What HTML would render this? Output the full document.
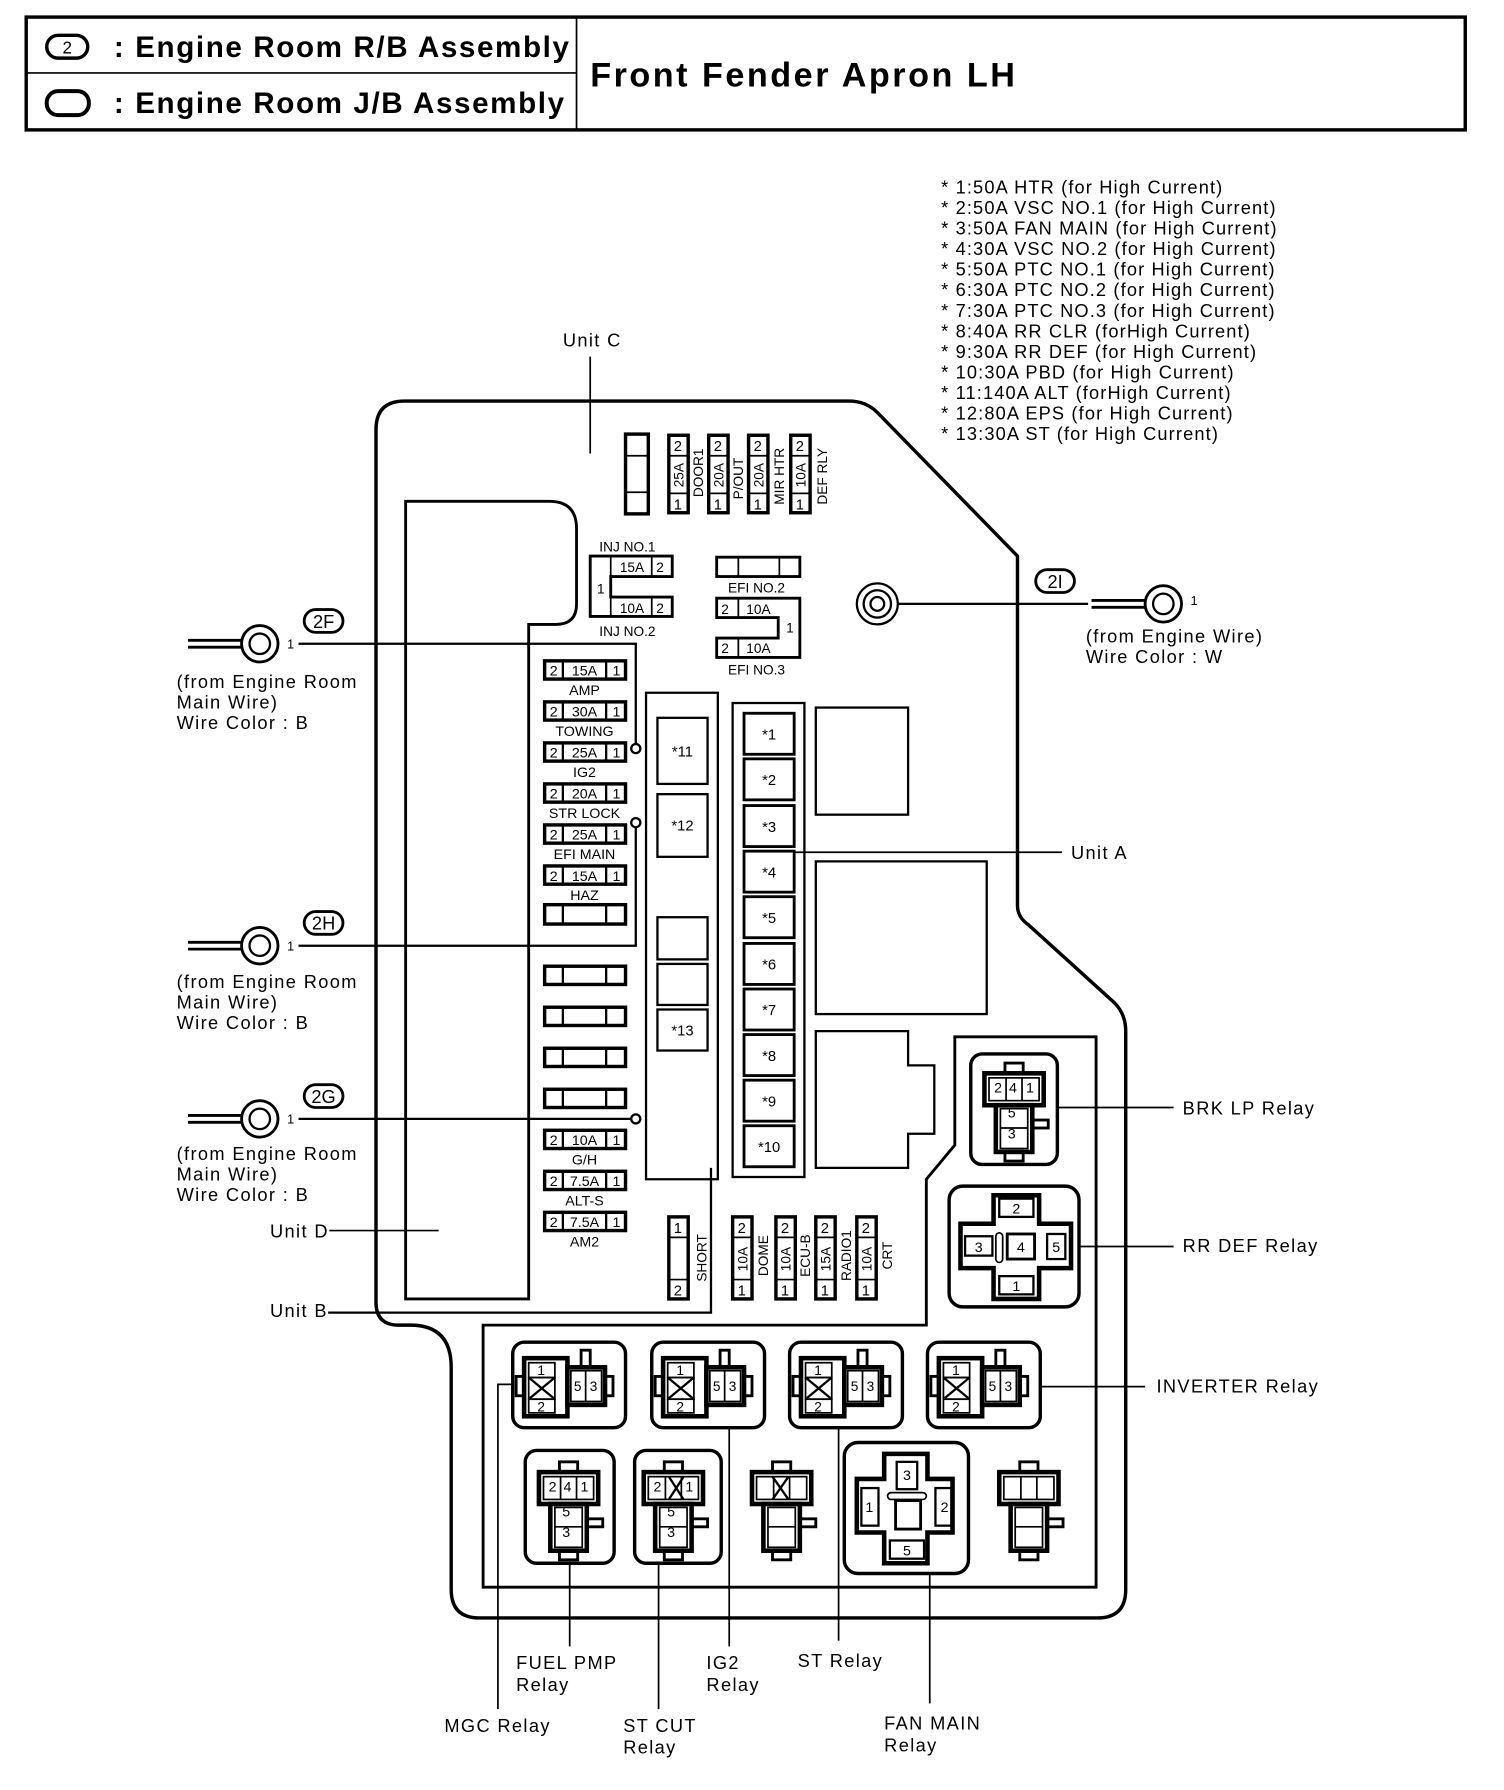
<!DOCTYPE html>
<html><head><meta charset="utf-8"><style>
html,body{margin:0;padding:0;background:#fff}
svg{display:block}
text{font-family:"Liberation Sans",Arial,sans-serif;fill:#000}
.lab text{letter-spacing:1.2px}
</style></head><body>
<svg width="1504" height="1790" viewBox="0 0 1320 1571" preserveAspectRatio="none" xmlns="http://www.w3.org/2000/svg">
<defs>
<g id="r1">
<rect x="0" y="0" width="99" height="75" rx="10" fill="none" stroke="#000" stroke-width="3"/>
<rect x="3" y="30" width="7" height="17" fill="#fff" stroke="#000" stroke-width="2.5"/>
<rect x="81" y="30" width="7" height="17" fill="#fff" stroke="#000" stroke-width="2.5"/>
<rect x="60" y="7" width="8" height="16" fill="#fff" stroke="#000" stroke-width="2.5"/>
<rect x="10" y="14" width="38" height="51" fill="#fff" stroke="#000" stroke-width="4"/>
<rect x="48" y="22" width="33" height="33" fill="#fff" stroke="#000" stroke-width="4"/>
<rect x="14" y="18" width="23" height="13" fill="none" stroke="#000" stroke-width="1.5"/>
<rect x="14" y="31" width="23" height="19" fill="none" stroke="#000" stroke-width="1.5"/>
<path d="M14 31 L37 50 M37 31 L14 50" stroke="#000" stroke-width="2"/>
<rect x="14" y="50" width="23" height="12" fill="none" stroke="#000" stroke-width="1.5"/>
<rect x="51" y="25" width="27" height="27" fill="none" stroke="#000" stroke-width="1.5"/>
<line x1="64" y1="25" x2="64" y2="52" stroke="#000" stroke-width="1.5"/>
<text x="25" y="29" font-size="12" text-anchor="middle">1</text>
<text x="25" y="61" font-size="12" text-anchor="middle">2</text>
<text x="57" y="43" font-size="12" text-anchor="middle">5</text>
<text x="71" y="43" font-size="12" text-anchor="middle">3</text>
</g>
<g id="r3">
<rect x="30" y="6" width="16" height="9" fill="#fff" stroke="#000" stroke-width="2.5"/>
<rect x="30" y="84" width="16" height="8" fill="#fff" stroke="#000" stroke-width="2.5"/>
<rect x="54" y="56" width="14" height="7" fill="#fff" stroke="#000" stroke-width="2.5"/>
<rect x="12" y="15" width="52" height="28" fill="#fff" stroke="#000" stroke-width="4"/>
<rect x="22" y="43" width="32" height="41" fill="#fff" stroke="#000" stroke-width="4"/>
<rect x="16" y="19" width="44" height="20" fill="none" stroke="#000" stroke-width="1.5"/>
<line x1="31" y1="19" x2="31" y2="39" stroke="#000" stroke-width="1.5"/>
<line x1="45" y1="19" x2="45" y2="39" stroke="#000" stroke-width="1.5"/>
<rect x="26" y="46" width="24" height="35" fill="none" stroke="#000" stroke-width="1.5"/>
<line x1="26" y1="63" x2="50" y2="63" stroke="#000" stroke-width="1.5"/>
</g>
</defs>

<!-- header -->
<rect x="23" y="15" width="1263" height="99" fill="none" stroke="#000" stroke-width="3"/>
<line x1="506" y1="15" x2="506" y2="114" stroke="#000" stroke-width="1.5"/>
<line x1="23" y1="64" x2="506" y2="64" stroke="#000" stroke-width="1.5"/>
<rect x="41" y="31" width="36" height="20" rx="10" fill="none" stroke="#000" stroke-width="3"/>
<text x="59" y="47" font-size="15" text-anchor="middle">2</text>
<rect x="41" y="80" width="37" height="21" rx="10" fill="none" stroke="#000" stroke-width="3.5"/>
<text x="100" y="50" font-size="26" font-weight="bold" style="letter-spacing:1.4px">: Engine Room R/B Assembly</text>
<text x="100" y="99" font-size="26" font-weight="bold" style="letter-spacing:1.4px">: Engine Room J/B Assembly</text>
<text x="518" y="76" font-size="30" font-weight="bold" style="letter-spacing:2.2px">Front Fender Apron LH</text>

<!-- notes -->
<g font-size="16" style="letter-spacing:1px">
<text x="826" y="170">* 1:50A HTR (for High Current)</text>
<text x="826" y="188">* 2:50A VSC NO.1 (for High Current)</text>
<text x="826" y="206">* 3:50A FAN MAIN (for High Current)</text>
<text x="826" y="224">* 4:30A VSC NO.2 (for High Current)</text>
<text x="826" y="242">* 5:50A PTC NO.1 (for High Current)</text>
<text x="826" y="260">* 6:30A PTC NO.2 (for High Current)</text>
<text x="826" y="278">* 7:30A PTC NO.3 (for High Current)</text>
<text x="826" y="296">* 8:40A RR CLR (forHigh Current)</text>
<text x="826" y="314">* 9:30A RR DEF (for High Current)</text>
<text x="826" y="332">* 10:30A PBD (for High Current)</text>
<text x="826" y="350">* 11:140A ALT (forHigh Current)</text>
<text x="826" y="368">* 12:80A EPS (for High Current)</text>
<text x="826" y="386">* 13:30A ST (for High Current)</text>
</g>

<g fill="none" stroke="#000">
<path d="M355 352 L745 352 Q760 352 770 362 L893 488 L893 795 Q893 805 903 812 L978 880 Q988 890 988 905 L988 1395 Q988 1420 963 1420 L421 1420 Q396 1420 396 1395 L396 1200 Q396 1163 360 1163 L350 1163 Q330 1163 330 1143 L330 377 Q330 352 355 352 Z" stroke-width="3"/>
<path d="M356 1140 L356 440 L482 440 Q506 440 506 464 L506 530 Q506 548 488 548 L464 548 L464 1140 Z" stroke-width="2.5"/>
<path d="M424 1393 L424 1163 L813 1163 L813 1035 L838 1005 L838 910 L962 910 L962 1393 Z" stroke-width="2.5"/>
<line x1="518" y1="313" x2="518" y2="398" stroke-width="1.5"/>
<path d="M567 1035 L567 608 L630 608 L630 1035 Z" stroke-width="2"/>
<polyline points="288,1152 624,1152 624,1025" stroke-width="2"/>
<rect x="577" y="630" width="44" height="58" stroke-width="2"/>
<rect x="577" y="697" width="44" height="55" stroke-width="2"/>
<rect x="577" y="805" width="44" height="37" stroke-width="2"/>
<rect x="577" y="846" width="44" height="36" stroke-width="2"/>
<rect x="577" y="886" width="44" height="36" stroke-width="2"/>
<rect x="643" y="617" width="63" height="416" stroke-width="2"/>
<rect x="716" y="621" width="81" height="94" stroke-width="2"/>
<rect x="716" y="756" width="150" height="134" stroke-width="2"/>
<path d="M716 905 L797 905 L797 935 L820 935 L820 995 L797 995 L797 1025 L716 1025 Z" stroke-width="2"/>
<line x1="697" y1="748" x2="932" y2="748" stroke-width="1.5"/>
</g>
<g fill="none" stroke="#000" stroke-width="2.5">
<rect x="653" y="626" width="44" height="36"/><rect x="653" y="666" width="44" height="36"/>
<rect x="653" y="707" width="44" height="36"/><rect x="653" y="747" width="44" height="36"/>
<rect x="653" y="787" width="44" height="36"/><rect x="653" y="828" width="44" height="36"/>
<rect x="653" y="868" width="44" height="36"/><rect x="653" y="908" width="44" height="36"/>
<rect x="653" y="948" width="44" height="36"/><rect x="653" y="988" width="44" height="36"/>
</g>
<g font-size="13" text-anchor="middle">
<text x="675" y="649">*1</text><text x="675" y="689">*2</text><text x="675" y="730">*3</text>
<text x="675" y="770">*4</text><text x="675" y="810">*5</text><text x="675" y="851">*6</text>
<text x="675" y="891">*7</text><text x="675" y="931">*8</text><text x="675" y="971">*9</text>
<text x="675" y="1011">*10</text>
<text x="599" y="664">*11</text><text x="599" y="729">*12</text><text x="599" y="909">*13</text>
</g>
<g class="lab" font-size="16">
<text x="940" y="754">Unit A</text>
<text x="494" y="304">Unit C</text>
<text x="237" y="1086">Unit D</text>
<text x="237" y="1156">Unit B</text>
</g>
<line x1="289" y1="1080" x2="385" y2="1080" stroke="#000" stroke-width="1.5"/>

<!-- top fuses -->
<g fill="none" stroke="#000" stroke-width="3">
<rect x="549" y="381" width="20" height="70"/>
<line x1="549" y1="400" x2="569" y2="400" stroke-width="1.5"/><line x1="549" y1="432" x2="569" y2="432" stroke-width="1.5"/>
<rect x="587" y="382" width="17" height="68"/><rect x="622" y="382" width="17" height="68"/>
<rect x="657" y="382" width="17" height="68"/><rect x="694" y="382" width="17" height="68"/>
</g>
<g stroke="#000" stroke-width="1.5">
<line x1="587" y1="400" x2="604" y2="400"/><line x1="587" y1="433" x2="604" y2="433"/>
<line x1="622" y1="400" x2="639" y2="400"/><line x1="622" y1="433" x2="639" y2="433"/>
<line x1="657" y1="400" x2="674" y2="400"/><line x1="657" y1="433" x2="674" y2="433"/>
<line x1="694" y1="400" x2="711" y2="400"/><line x1="694" y1="433" x2="711" y2="433"/>
</g>
<g font-size="13" text-anchor="middle">
<text x="595" y="396">2</text><text x="595" y="447">1</text>
<text x="630" y="396">2</text><text x="630" y="447">1</text>
<text x="665" y="396">2</text><text x="665" y="447">1</text>
<text x="702" y="396">2</text><text x="702" y="447">1</text>
</g>
<g font-size="12" text-anchor="middle">
<text transform="translate(600,417) rotate(-90)">25A</text>
<text transform="translate(635,417) rotate(-90)">20A</text>
<text transform="translate(670,417) rotate(-90)">20A</text>
<text transform="translate(707,417) rotate(-90)">10A</text>
<text transform="translate(617,415) rotate(-90)">DOOR1</text>
<text transform="translate(652,420) rotate(-90)">P/OUT</text>
<text transform="translate(688,418) rotate(-90)">MIR HTR</text>
<text transform="translate(726,418) rotate(-90)">DEF RLY</text>
</g>

<!-- INJ / EFI -->
<g fill="none" stroke="#000" stroke-width="2.5">
<path d="M518 488 L590 488 L590 506 L536 506 L536 524 L590 524 L590 541 L518 541 Z"/>
<line x1="536" y1="488" x2="536" y2="506" stroke-width="1.5"/><line x1="572" y1="488" x2="572" y2="506" stroke-width="1.5"/>
<line x1="536" y1="524" x2="536" y2="541" stroke-width="1.5"/><line x1="572" y1="524" x2="572" y2="541" stroke-width="1.5"/>
<rect x="629" y="489" width="73" height="17"/>
<line x1="648" y1="489" x2="648" y2="506" stroke-width="1.5"/><line x1="684" y1="489" x2="684" y2="506" stroke-width="1.5"/>
<path d="M629 525 L702 525 L702 577 L629 577 L629 560 L683 560 L683 542 L629 542 Z"/>
<line x1="648" y1="525" x2="648" y2="542" stroke-width="1.5"/><line x1="648" y1="560" x2="648" y2="577" stroke-width="1.5"/>
<line x1="683" y1="542" x2="683" y2="560" stroke-width="1.5"/>
</g>
<g font-size="12">
<text x="526" y="484">INJ NO.1</text>
<text x="544" y="502">15A</text><text x="576" y="502">2</text>
<text x="524" y="521">1</text>
<text x="544" y="538">10A</text><text x="576" y="538">2</text>
<text x="526" y="558">INJ NO.2</text>
<text x="639" y="520">EFI NO.2</text>
<text x="633" y="539">2</text><text x="655" y="539">10A</text>
<text x="633" y="573">2</text><text x="655" y="573">10A</text>
<text x="690" y="555">1</text>
<text x="639" y="592">EFI NO.3</text>
</g>

<!-- left fuse stack -->
<g fill="none" stroke="#000" stroke-width="3">
<rect x="478" y="580" width="71" height="16"/><rect x="478" y="616" width="71" height="16"/>
<rect x="478" y="652" width="71" height="16"/><rect x="478" y="688" width="71" height="16"/>
<rect x="478" y="724" width="71" height="16"/><rect x="478" y="760" width="71" height="16"/>
<rect x="478" y="794" width="71" height="17"/>
<rect x="478" y="848" width="71" height="16"/><rect x="478" y="884" width="71" height="16"/>
<rect x="478" y="920" width="71" height="16"/><rect x="478" y="956" width="71" height="16"/>
<rect x="478" y="992" width="71" height="16"/><rect x="478" y="1028" width="71" height="16"/>
<rect x="478" y="1064" width="71" height="16"/>
</g>
<g stroke="#000" stroke-width="2">
<path d="M494 580v16M532 580v16M494 616v16M532 616v16M494 652v16M532 652v16M494 688v16M532 688v16M494 724v16M532 724v16M494 760v16M532 760v16M494 794v17M532 794v17M494 848v16M532 848v16M494 884v16M532 884v16M494 920v16M532 920v16M494 956v16M532 956v16M494 992v16M532 992v16M494 1028v16M532 1028v16M494 1064v16M532 1064v16"/>
</g>
<g font-size="12.5" text-anchor="middle">
<text x="486" y="593">2</text><text x="513" y="593">15A</text><text x="541" y="593">1</text><text x="513" y="610">AMP</text>
<text x="486" y="629">2</text><text x="513" y="629">30A</text><text x="541" y="629">1</text><text x="513" y="646">TOWING</text>
<text x="486" y="665">2</text><text x="513" y="665">25A</text><text x="541" y="665">1</text><text x="513" y="682">IG2</text>
<text x="486" y="701">2</text><text x="513" y="701">20A</text><text x="541" y="701">1</text><text x="513" y="718">STR LOCK</text>
<text x="486" y="737">2</text><text x="513" y="737">25A</text><text x="541" y="737">1</text><text x="513" y="754">EFI MAIN</text>
<text x="486" y="773">2</text><text x="513" y="773">15A</text><text x="541" y="773">1</text><text x="513" y="790">HAZ</text>
<text x="486" y="1005">2</text><text x="513" y="1005">10A</text><text x="541" y="1005">1</text><text x="513" y="1022">G/H</text>
<text x="486" y="1041">2</text><text x="513" y="1041">7.5A</text><text x="541" y="1041">1</text><text x="513" y="1058">ALT-S</text>
<text x="486" y="1077">2</text><text x="513" y="1077">7.5A</text><text x="541" y="1077">1</text><text x="513" y="1094">AM2</text>
</g>

<!-- bottom small fuses -->
<g fill="none" stroke="#000" stroke-width="3">
<rect x="587" y="1068" width="17" height="72"/>
<rect x="643" y="1068" width="17" height="72"/><rect x="681" y="1068" width="17" height="72"/>
<rect x="716" y="1068" width="17" height="72"/><rect x="752" y="1068" width="17" height="72"/>
</g>
<g stroke="#000" stroke-width="1.5">
<path d="M587 1086h17M587 1123h17M643 1086h17M643 1123h17M681 1086h17M681 1123h17M716 1086h17M716 1123h17M752 1086h17M752 1123h17"/>
</g>
<g font-size="13" text-anchor="middle">
<text x="595" y="1082">1</text><text x="595" y="1137">2</text>
<text x="651" y="1082">2</text><text x="651" y="1137">1</text>
<text x="689" y="1082">2</text><text x="689" y="1137">1</text>
<text x="724" y="1082">2</text><text x="724" y="1137">1</text>
<text x="760" y="1082">2</text><text x="760" y="1137">1</text>
</g>
<g font-size="12" text-anchor="middle">
<text transform="translate(656,1105) rotate(-90)">10A</text>
<text transform="translate(694,1105) rotate(-90)">10A</text>
<text transform="translate(729,1105) rotate(-90)">15A</text>
<text transform="translate(765,1105) rotate(-90)">10A</text>
<text transform="translate(620,1104) rotate(-90)">SHORT</text>
<text transform="translate(674,1102) rotate(-90)">DOME</text>
<text transform="translate(711,1102) rotate(-90)">ECU-B</text>
<text transform="translate(747,1102) rotate(-90)">RADIO1</text>
<text transform="translate(783,1102) rotate(-90)">CRT</text>
</g>

<!-- wire connectors -->
<g fill="none" stroke="#000">
<g stroke-width="2.5">
<path d="M165 562H212M165 568H212"/><circle cx="228" cy="565" r="16"/><circle cx="228" cy="565" r="9" stroke-width="2"/>
<path d="M165 827H212M165 833H212"/><circle cx="228" cy="830" r="16"/><circle cx="228" cy="830" r="9" stroke-width="2"/>
<path d="M165 979H212M165 985H212"/><circle cx="228" cy="982" r="16"/><circle cx="228" cy="982" r="9" stroke-width="2"/>
<path d="M958 527H1005M958 533H1005"/><circle cx="1021" cy="530" r="16"/><circle cx="1021" cy="530" r="9" stroke-width="2"/>
</g>
<g stroke-width="2">
<polyline points="262,565 558,565 558,653"/><circle cx="558" cy="657" r="4"/>
<polyline points="262,830 558,830 558,726"/><circle cx="558" cy="722" r="4"/>
<line x1="262" y1="982" x2="554" y2="982"/><circle cx="558" cy="982" r="4"/>
<line x1="788" y1="530" x2="955" y2="530"/>
<circle cx="770" cy="530" r="18"/><circle cx="770" cy="530" r="12"/><circle cx="770" cy="530" r="6"/>
</g>
<g stroke-width="2.5">
<rect x="267" y="535" width="34" height="20" rx="10"/>
<rect x="267" y="800" width="34" height="20" rx="10"/>
<rect x="267" y="952" width="34" height="20" rx="10"/>
<rect x="909" y="500" width="34" height="20" rx="10"/>
</g>
</g>
<g font-size="16">
<text x="284" y="551" text-anchor="middle">2F</text>
<text x="284" y="816" text-anchor="middle">2H</text>
<text x="284" y="968" text-anchor="middle">2G</text>
<text x="926" y="516" text-anchor="middle">2I</text>
<text x="252" y="569" font-size="11">1</text>
<text x="252" y="834" font-size="11">1</text>
<text x="252" y="986" font-size="11">1</text>
<text x="1045" y="531" font-size="11">1</text>
</g>
<g class="lab" font-size="16">
<text x="155" y="604">(from Engine Room</text><text x="155" y="622">Main Wire)</text><text x="155" y="640">Wire Color : B</text>
<text x="155" y="867">(from Engine Room</text><text x="155" y="885">Main Wire)</text><text x="155" y="903">Wire Color : B</text>
<text x="155" y="1018">(from Engine Room</text><text x="155" y="1036">Main Wire)</text><text x="155" y="1054">Wire Color : B</text>
<text x="953" y="564">(from Engine Wire)</text><text x="953" y="582">Wire Color : W</text>
</g>

<!-- relays row 1 -->
<use href="#r1" x="450" y="1178"/>
<use href="#r1" x="572" y="1178"/>
<use href="#r1" x="693" y="1178"/>
<use href="#r1" x="814" y="1178"/>

<!-- relays row 2 -->
<rect x="461" y="1273" width="78" height="99" rx="10" fill="none" stroke="#000" stroke-width="3"/>
<use href="#r3" x="461" y="1277"/>
<rect x="557" y="1273" width="76" height="99" rx="10" fill="none" stroke="#000" stroke-width="3"/>
<use href="#r3" x="553" y="1277"/>
<path d="M587 1296 L600 1316 M600 1296 L587 1316" stroke="#000" stroke-width="2"/>
<use href="#r3" x="648" y="1277"/>
<path d="M678 1296 L692 1316 M692 1296 L678 1316" stroke="#000" stroke-width="2"/>
<use href="#r3" x="865" y="1277"/>
<use href="#r3" x="852" y="927"/>
<rect x="852" y="925" width="76" height="97" rx="10" fill="none" stroke="#000" stroke-width="3"/>
<g font-size="12.5" text-anchor="middle">
<text x="485" y="1309">2</text><text x="498" y="1309">4</text><text x="513" y="1309">1</text>
<text x="497" y="1331">5</text><text x="497" y="1349">3</text>
<text x="577" y="1309">2</text><text x="605" y="1309">1</text>
<text x="589" y="1331">5</text><text x="589" y="1349">3</text>
<text x="876" y="959">2</text><text x="889" y="959">4</text><text x="904" y="959">1</text>
<text x="888" y="981">5</text><text x="888" y="999">3</text>
</g>

<!-- FAN MAIN cross relay -->
<rect x="741" y="1266" width="109" height="115" rx="12" fill="none" stroke="#000" stroke-width="3"/>
<g fill="none" stroke="#000">
<path d="M776 1276 L814 1276 L814 1298 L836 1298 L836 1345 L814 1345 L814 1372 L776 1372 L776 1345 L752 1345 L752 1298 L776 1298 Z" stroke-width="4"/>
<rect x="787" y="1283" width="18" height="24" stroke-width="2"/>
<rect x="756" y="1306" width="15" height="33" stroke-width="2"/>
<rect x="821" y="1306" width="14" height="33" stroke-width="2"/>
<rect x="781" y="1352" width="30" height="16" stroke-width="2"/>
<rect x="786" y="1317" width="22" height="25" stroke-width="2.5"/>
<rect x="779" y="1310" width="34" height="6" rx="3" stroke-width="1.5"/>
</g>
<g font-size="12.5" text-anchor="middle">
<text x="796" y="1299">3</text><text x="763" y="1327">1</text><text x="829" y="1327">2</text><text x="796" y="1365">5</text>
</g>

<!-- RR DEF cross relay -->
<rect x="833" y="1041" width="114" height="106" rx="12" fill="none" stroke="#000" stroke-width="3"/>
<g fill="none" stroke="#000">
<path d="M872 1049 L912 1049 L912 1074 L940 1074 L940 1113 L912 1113 L912 1140 L872 1140 L872 1113 L843 1113 L843 1074 L872 1074 Z" stroke-width="4"/>
<rect x="877" y="1052" width="30" height="16" stroke-width="2"/>
<rect x="847" y="1085" width="24" height="17" stroke-width="2"/>
<rect x="919" y="1083" width="16" height="22" stroke-width="2"/>
<rect x="877" y="1120" width="30" height="16" stroke-width="2"/>
<rect x="884" y="1083" width="24" height="22" stroke-width="2.5"/>
<rect x="874" y="1082" width="6" height="26" rx="3" stroke-width="1.5"/>
</g>
<g font-size="12.5" text-anchor="middle">
<text x="892" y="1065">2</text><text x="859" y="1099">3</text><text x="896" y="1099">4</text><text x="927" y="1099">5</text><text x="892" y="1133">1</text>
</g>

<!-- leader lines -->
<g stroke="#000" stroke-width="1.5" fill="none">
<line x1="928" y1="972" x2="1030" y2="972"/>
<line x1="947" y1="1094" x2="1030" y2="1094"/>
<line x1="912" y1="1217" x2="1005" y2="1217"/>
<polyline points="450,1215 437,1215 437,1500"/>
<line x1="500" y1="1372" x2="500" y2="1445"/>
<line x1="578" y1="1372" x2="578" y2="1500"/>
<line x1="640" y1="1253" x2="640" y2="1445"/>
<line x1="736" y1="1253" x2="736" y2="1440"/>
<line x1="816" y1="1381" x2="816" y2="1495"/>
</g>
<g class="lab" font-size="16">
<text x="1038" y="978">BRK LP Relay</text>
<text x="1038" y="1099">RR DEF Relay</text>
<text x="1015" y="1222">INVERTER Relay</text>
<text x="390" y="1520">MGC Relay</text>
<text x="453" y="1465">FUEL PMP</text><text x="453" y="1484">Relay</text>
<text x="547" y="1520">ST CUT</text><text x="547" y="1539">Relay</text>
<text x="620" y="1465">IG2</text><text x="620" y="1484">Relay</text>
<text x="700" y="1463">ST Relay</text>
<text x="776" y="1518">FAN MAIN</text><text x="776" y="1537">Relay</text>
</g>
</svg>
</body></html>
